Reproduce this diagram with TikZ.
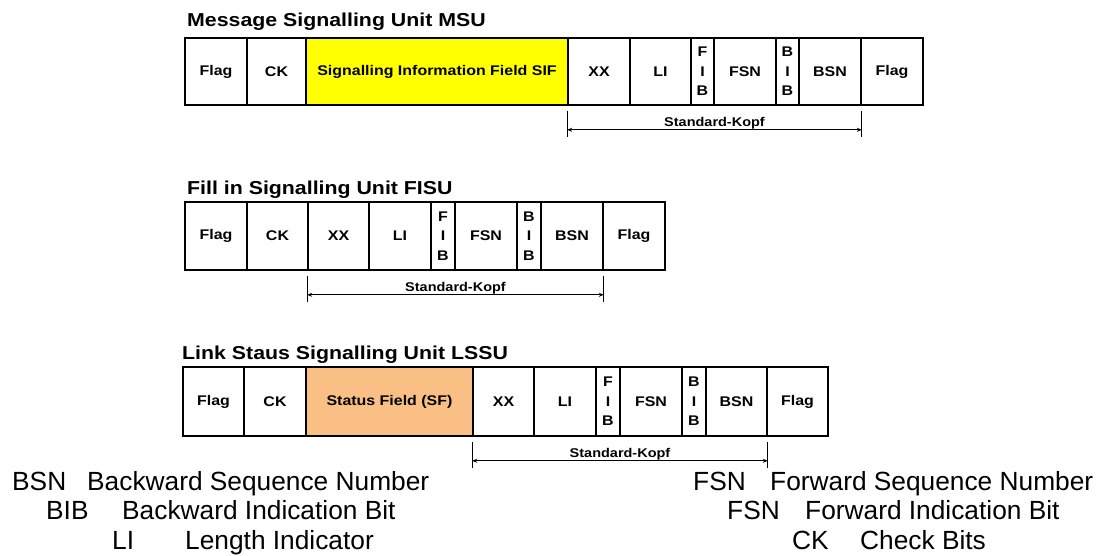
\documentclass[tikz,border=0pt]{standalone}
\usepackage{fontspec}
\setmainfont{Liberation Sans}
\newfontfamily\boxfont[FakeStretch=1.14]{Liberation Sans}
\usetikzlibrary{arrows.meta,calc}
\definecolor{sifyellow}{RGB}{255,255,0}
\definecolor{sforange}{RGB}{250,191,132}
\tikzset{
  cell/.style={draw=black, line width=1.6pt, inner sep=0pt, align=center,
    font=\boxfont\bfseries\fontsize{14}{19.5}\selectfont},
  titletext/.style={anchor=base west, inner sep=0pt, font=\boxfont\bfseries\fontsize{18.7}{22}\selectfont},
  kopf/.style={anchor=base, inner sep=0pt, font=\boxfont\bfseries\fontsize{12.7}{14}\selectfont},
  tickline/.style={line width=1.2pt},
  dimline/.style={line width=1pt, {Stealth[length=5pt,width=4pt]}-{Stealth[length=5pt,width=4pt]}},
  legend/.style={anchor=base west, inner sep=0pt, font=\fontsize{26.3}{30}\selectfont}
}
\begin{document}
\begin{tikzpicture}[x=1pt,y=-1pt]
\useasboundingbox (0,0) rectangle (1100,555);

% ---------- MSU ----------
\node[titletext] (t1) at (187,26) {Message Signalling Unit MSU};
\begin{scope}[every node/.append style={minimum height=67pt}]
\node[cell, minimum width=62pt] (r1flagA) at (216,71.5) {Flag};
\node[cell, minimum width=59pt] (r1ck) at (276.5,71.5) {CK};
\node[cell, minimum width=262pt, fill=sifyellow] (r1sif) at (437,71.5) {Signalling Information Field SIF};
\node[cell, minimum width=62pt] (r1xx) at (599,71.5) {XX};
\node[cell, minimum width=61pt] (r1li) at (660.5,71.5) {LI};
\node[cell, minimum width=23pt] (r1fib) at (702.5,71.5) {F\\I\\B};
\node[cell, minimum width=62pt] (r1fsn) at (745,71.5) {FSN};
\node[cell, minimum width=23pt] (r1bib) at (787.5,71.5) {B\\I\\B};
\node[cell, minimum width=62pt] (r1bsn) at (830,71.5) {BSN};
\node[cell, minimum width=62pt] (r1flagB) at (892,71.5) {Flag};
\end{scope}
\coordinate (k1a) at ([yshift=-5pt]r1xx.south west);
\coordinate (k1b) at ([yshift=-31pt]r1xx.south west);
\coordinate (k1c) at ([yshift=-5pt]r1bsn.south east);
\coordinate (k1d) at ([yshift=-31pt]r1bsn.south east);
\coordinate (a1l) at ([yshift=-24pt]r1xx.south west);
\coordinate (a1r) at ([yshift=-24pt]r1bsn.south east);
\draw[tickline] (k1a) -- (k1b);
\draw[tickline] (k1c) -- (k1d);
\draw[dimline] (a1l) -- (a1r);
\node[kopf] (s1) at ($(a1l)!0.5!(a1r)+(0,3.5pt)$) {Standard-Kopf};

% ---------- FISU ----------
\node[titletext] (t2) at (187,194) {Fill in Signalling Unit FISU};
\begin{scope}[every node/.append style={minimum height=68pt}]
\node[cell, minimum width=62pt] (r2flagA) at (216,236) {Flag};
\node[cell, minimum width=61pt] (r2ck) at (277.5,236) {CK};
\node[cell, minimum width=61pt] (r2xx) at (338.5,236) {XX};
\node[cell, minimum width=62pt] (r2li) at (400,236) {LI};
\node[cell, minimum width=24pt] (r2fib) at (443,236) {F\\I\\B};
\node[cell, minimum width=62pt] (r2fsn) at (486,236) {FSN};
\node[cell, minimum width=24pt] (r2bib) at (529,236) {B\\I\\B};
\node[cell, minimum width=62pt] (r2bsn) at (572,236) {BSN};
\node[cell, minimum width=62pt] (r2flagB) at (634,236) {Flag};
\end{scope}
\coordinate (k2a) at ([yshift=-5pt]r2xx.south west);
\coordinate (k2b) at ([yshift=-31pt]r2xx.south west);
\coordinate (k2c) at ([yshift=-5pt]r2bsn.south east);
\coordinate (k2d) at ([yshift=-31pt]r2bsn.south east);
\coordinate (a2l) at ([yshift=-24pt]r2xx.south west);
\coordinate (a2r) at ([yshift=-24pt]r2bsn.south east);
\draw[tickline] (k2a) -- (k2b);
\draw[tickline] (k2c) -- (k2d);
\draw[dimline] (a2l) -- (a2r);
\node[kopf] (s2) at ($(a2l)!0.5!(a2r)+(0,3.5pt)$) {Standard-Kopf};

% ---------- LSSU ----------
\node[titletext] (t3) at (182,359) {Link Staus Signalling Unit LSSU};
\begin{scope}[every node/.append style={minimum height=69pt}]
\node[cell, minimum width=61pt] (r3flagA) at (213.5,401.5) {Flag};
\node[cell, minimum width=62pt] (r3ck) at (275,401.5) {CK};
\node[cell, minimum width=167pt, fill=sforange] (r3sf) at (389.5,401.5) {Status Field (SF)};
\node[cell, minimum width=61pt] (r3xx) at (503.5,401.5) {XX};
\node[cell, minimum width=62pt] (r3li) at (565,401.5) {LI};
\node[cell, minimum width=24pt] (r3fib) at (608,401.5) {F\\I\\B};
\node[cell, minimum width=62pt] (r3fsn) at (651,401.5) {FSN};
\node[cell, minimum width=24pt] (r3bib) at (694,401.5) {B\\I\\B};
\node[cell, minimum width=61pt] (r3bsn) at (736.5,401.5) {BSN};
\node[cell, minimum width=61pt] (r3flagB) at (797.5,401.5) {Flag};
\end{scope}
\coordinate (k3a) at ([yshift=-5pt]r3xx.south west);
\coordinate (k3b) at ([yshift=-31pt]r3xx.south west);
\coordinate (k3c) at ([yshift=-5pt]r3bsn.south east);
\coordinate (k3d) at ([yshift=-31pt]r3bsn.south east);
\coordinate (a3l) at ([yshift=-24pt]r3xx.south west);
\coordinate (a3r) at ([yshift=-24pt]r3bsn.south east);
\draw[tickline] (k3a) -- (k3b);
\draw[tickline] (k3c) -- (k3d);
\draw[dimline] (a3l) -- (a3r);
\node[kopf] (s3) at ($(a3l)!0.5!(a3r)+(0,3.5pt)$) {Standard-Kopf};

% ---------- Legend ----------
\node[legend] (l1a) at (12,490) {BSN};
\node[legend] (l1b) at (87,490) {Backward Sequence Number};
\node[legend] (l2a) at (46,519.5) {BIB};
\node[legend] (l2b) at (122,519.5) {Backward Indication Bit};
\node[legend] (l3a) at (112,549) {LI};
\node[legend] (l3b) at (185,549) {Length Indicator};
\node[legend] (r1a) at (693,490) {FSN};
\node[legend] (r1b) at (770,490) {Forward Sequence Number};
\node[legend] (r2a) at (727,519.5) {FSN};
\node[legend] (r2b) at (805,519.5) {Forward Indication Bit};
\node[legend] (r3a) at (792,549) {CK};
\node[legend] (r3b) at (860,549) {Check Bits};
\end{tikzpicture}
\end{document}
